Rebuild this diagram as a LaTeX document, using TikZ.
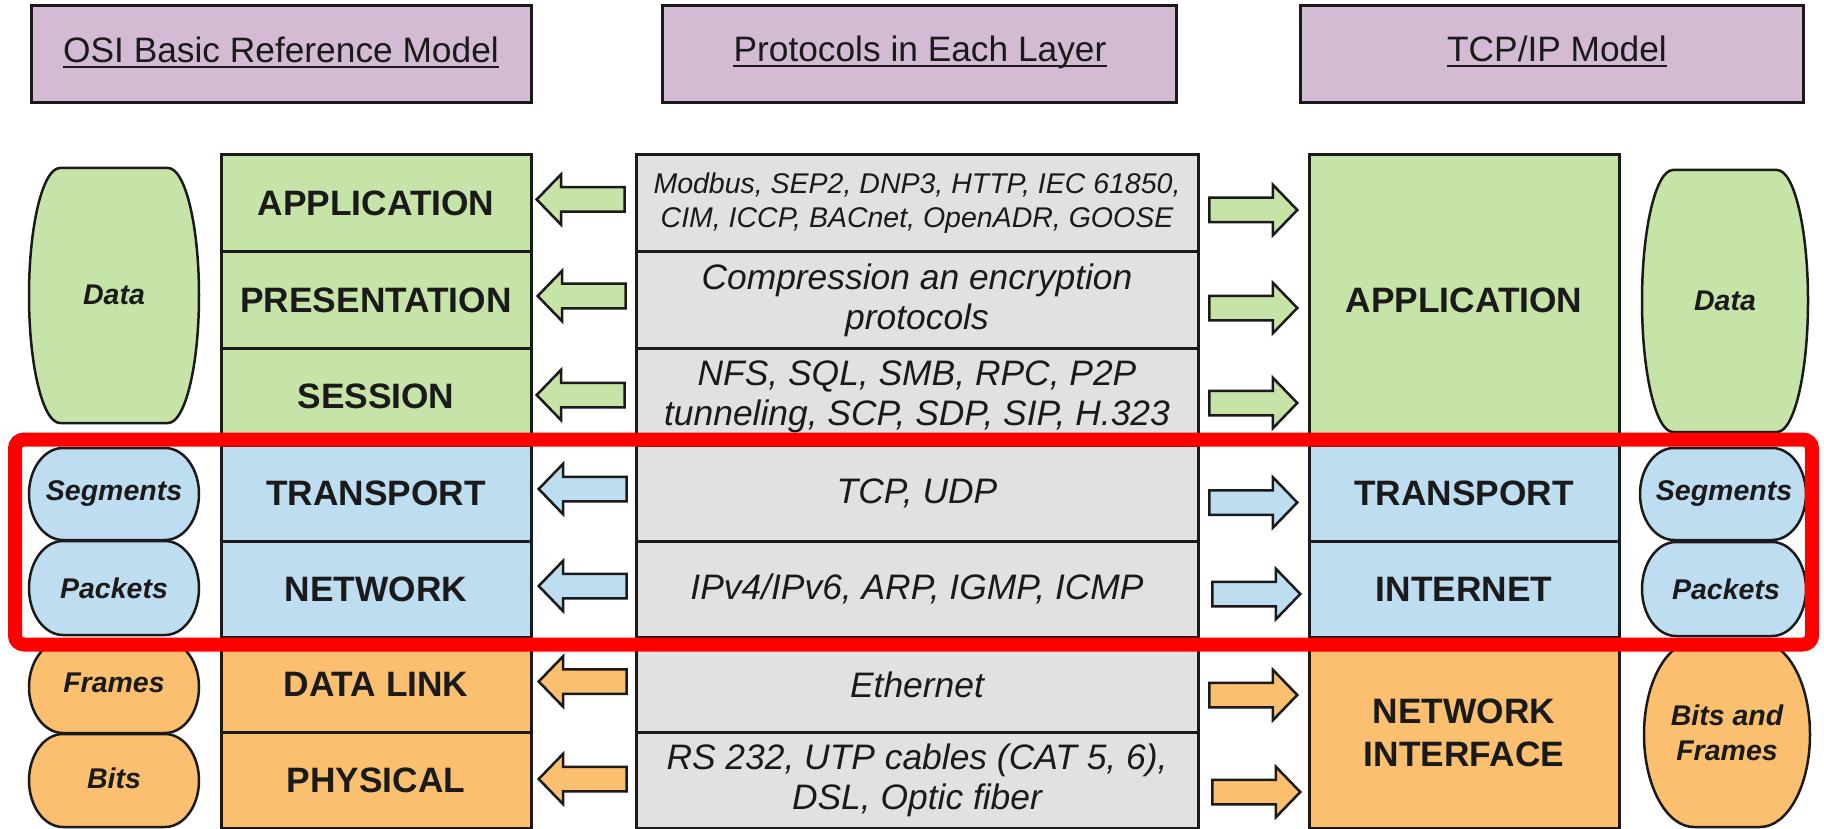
\documentclass[tikz,border=0pt]{standalone}
\usepackage{fontspec}
\setmainfont{Liberation Sans}
\usetikzlibrary{shapes.arrows}

\definecolor{ttl}{HTML}{D4BBD4}
\definecolor{grn}{HTML}{C6E3A8}
\definecolor{blu}{HTML}{BEDDF1}
\definecolor{org}{HTML}{FAC070}
\definecolor{gry}{HTML}{E1E1E1}
\definecolor{ink}{HTML}{1A1A1A}

% barrel shape: flat top and bottom, half-ellipse sides
% #1 left x, #2 right x, #3 top y, #4 bottom y, #5 side bulge, #6 fill
\newcommand\blob[6]{%
  \filldraw[fill=#6, draw=ink, line width=2.5]
    ({#2-#5},#3) arc[start angle=-90, end angle=90, x radius=#5, y radius={(#4-#3)/2}]
    -- ({#1+#5},#4) arc[start angle=90, end angle=270, x radius=#5, y radius={(#4-#3)/2}]
    -- cycle;}

\begin{document}
\begin{tikzpicture}[x=1pt,y=-1pt,
  every node/.style={text=ink},
  title/.style={draw=ink, line width=3, fill=ttl, minimum height=97, inner sep=0},
  ttext/.style={inner sep=0, anchor=base, font=\fontsize{35.3}{42}\selectfont},
  uline/.style={draw=ink, line width=2.5},
  layer/.style={draw=ink, line width=3, minimum width=310, inner sep=0, align=center,
    font=\bfseries\fontsize{35.3}{43}\selectfont},
  proto/.style={draw=ink, line width=3, fill=gry, minimum width=562, inner sep=0, align=center,
    font=\itshape\fontsize{35.4}{40}\selectfont},
  small/.style={font=\itshape\fontsize{28.5}{34}\selectfont},
  unit/.style={inner sep=0, align=center, font=\bfseries\itshape\fontsize{28.5}{35}\selectfont},
  larrow/.style={single arrow, shape border rotate=180, draw=ink, line width=2.5,
    minimum height=88, single arrow head extend=13, inner xsep=0, inner ysep=11,
    single arrow tip angle=92, single arrow head indent=0, anchor=tip},
  rarrow/.style={larrow, shape border rotate=0},
]
\useasboundingbox (0,0) rectangle (1824,829);
\fill[white] (0,0) rectangle (1824,829);

% column headings
\node[title, minimum width=500] (hOSI) at (281,54.5) {};
\node[title, minimum width=514] (hPro) at (919,54.5) {};
\node[title, minimum width=503] (hTCP) at (1551.5,54.5) {};
\node[ttext] (tOSI) at (281,63) {OSI Basic Reference Model};
\node[ttext] (tPro) at (920,62) {Protocols in Each Layer};
\node[ttext] (tTCP) at (1557,62) {TCP/IP Model};
\draw[uline] ([yshift=-4]tOSI.base west) -- ([yshift=-4]tOSI.base east);
\draw[uline] ([yshift=-4]tPro.base west) -- ([yshift=-4]tPro.base east);
\draw[uline] ([yshift=-4]tTCP.base west) -- ([yshift=-4]tTCP.base east);

% OSI layers
\node[layer, fill=grn, minimum height=97] (oApp) at (376,203.5) {APPLICATION};
\node[layer, fill=grn, minimum height=96] (oPre) at (376,300) {PRESENTATION};
\node[layer, fill=grn, minimum height=97] (oSes) at (376,396.5) {SESSION};
\node[layer, fill=blu, minimum height=96] (oTra) at (376,493) {TRANSPORT};
\node[layer, fill=blu, minimum height=96] (oNet) at (376,589) {NETWORK};
\node[layer, fill=org, minimum height=95] (oDat) at (376,684.5) {DATA LINK};
\node[layer, fill=org, minimum height=96] (oPhy) at (376,780) {PHYSICAL};

% protocols per layer
\node[proto, small, minimum height=97] (pApp) at (917,203.5)
  {Modbus, SEP2, DNP3, HTTP, IEC 61850,\\CIM, ICCP, BACnet, OpenADR, GOOSE};
\node[proto, minimum height=96] (pPre) at (917,300) {Compression an encryption\\protocols};
\node[proto, minimum height=97] (pSes) at (917,396.5) {NFS, SQL, SMB, RPC, P2P\\tunneling, SCP, SDP, SIP, H.323};
\node[proto, minimum height=96] (pTra) at (917,493) {TCP, UDP};
\node[proto, minimum height=96] (pNet) at (917,589) {IPv4/IPv6, ARP, IGMP, ICMP};
\node[proto, minimum height=95] (pDat) at (917,684.5) {Ethernet};
\node[proto, minimum height=96] (pPhy) at (917,780) {RS 232, UTP cables (CAT 5, 6),\\DSL, Optic fiber};

% TCP/IP layers
\node[layer, fill=grn, minimum height=290] (tApp) at (1464,300) {APPLICATION};
\node[layer, fill=blu, minimum height=96] (tTra) at (1464,493) {TRANSPORT};
\node[layer, fill=blu, minimum height=96] (tInt) at (1464,589) {INTERNET};
\node[layer, fill=org, minimum height=191] (tNif) at (1464,732.5) {NETWORK\\INTERFACE};

% arrows towards the OSI column
\node[larrow, fill=grn] (la1) at (535,199.5) {};
\node[larrow, fill=grn] (la2) at (536,296) {};
\node[larrow, fill=grn] (la3) at (535,395) {};
\node[larrow, fill=blu] (la4) at (537,489) {};
\node[larrow, fill=blu] (la5) at (537,586) {};
\node[larrow, fill=org] (la6) at (537,681.5) {};
\node[larrow, fill=org] (la7) at (537,779) {};

% arrows towards the TCP/IP column
\node[rarrow, fill=grn] (ra1) at (1299,210) {};
\node[rarrow, fill=grn] (ra2) at (1299,308) {};
\node[rarrow, fill=grn] (ra3) at (1299,403) {};
\node[rarrow, fill=blu] (ra4) at (1299,502.5) {};
\node[rarrow, fill=blu] (ra5) at (1302,594) {};
\node[rarrow, fill=org] (ra6) at (1299,695) {};
\node[rarrow, fill=org] (ra7) at (1302,792) {};

% data units, OSI side
\blob{29}{199}{168}{423}{31}{grn}
\blob{29}{199}{448}{540}{34}{blu}
\blob{29}{199}{541}{635}{34}{blu}
\blob{29}{199}{641}{733}{34}{org}
\blob{29}{199}{734}{827}{34}{org}
\node[unit] (uData) at (114,295) {Data};
\node[unit] (uSeg) at (114,494) {Segments};
\node[unit] (uPkt) at (114,588) {Packets};
\node[unit] (uFrm) at (114,683) {Frames};
\node[unit] (uBit) at (114,778) {Bits};

% data units, TCP/IP side
\blob{1642}{1808}{170}{432}{31}{grn}
\blob{1640}{1806}{448}{540}{34}{blu}
\blob{1642}{1806}{542}{636}{34}{blu}
\blob{1644}{1810}{642}{827}{50}{org}
\node[unit] (vData) at (1725,301) {Data};
\node[unit] (vSeg) at (1724,494) {Segments};
\node[unit] (vPkt) at (1726,589) {Packets};
\node[unit] (vBF) at (1727,733) {Bits and\\Frames};

% highlight around transport and network rows
\node[draw=red, line width=14, rounded corners=9, minimum width=1797, minimum height=205,
  inner sep=0] (focus) at (913.5,542) {};
\end{tikzpicture}
\end{document}
